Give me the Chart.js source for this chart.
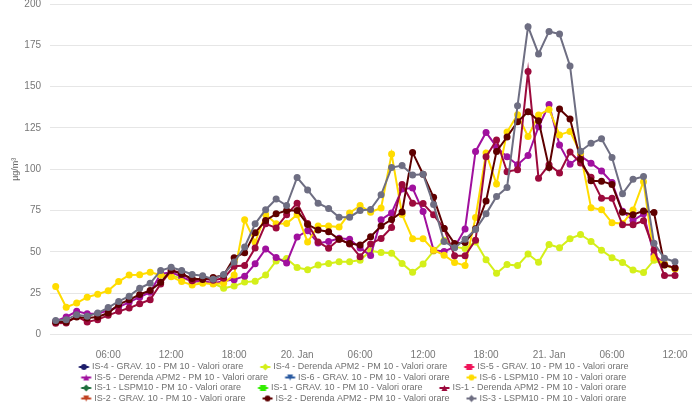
<!DOCTYPE html>
<html><head><meta charset="utf-8">
<script src="https://cdn.jsdelivr.net/npm/chart.js@4.4.1/dist/chart.umd.min.js"></script>
<style>html,body{margin:0;padding:0;background:#fff;}#wrap{width:700px;height:420px;}</style>
</head><body><div id="wrap"><canvas id="c" width="700" height="420"></canvas></div>
<script>
// Hours since 00:00, 19 Jan (hourly values)
const hours = [1,2,3,4,5,6,7,8,9,10,11,12,13,14,15,16,17,18,19,20,21,22,23,24,25,26,27,28,29,30,
  31,32,33,34,35,36,37,38,39,40,41,42,43,44,45,46,47,48,49,50,51,52,53,54,55,56,57,58,59,60];
const tickHours = [6,12,18,24,30,36,42,48,54,60];
const tickLabels = ['06:00','12:00','18:00','20. Jan','06:00','12:00','18:00','21. Jan','06:00','12:00'];

const seriesNames = [
  'IS-4 - GRAV. 10 - PM 10 - Valori orare',
  'IS-4 - Derenda APM2 - PM 10 - Valori orare',
  'IS-5 - GRAV. 10 - PM 10 - Valori orare',
  'IS-5 - Derenda APM2 - PM 10 - Valori orare',
  'IS-6 - GRAV. 10 - PM 10 - Valori orare',
  'IS-6 - LSPM10 - PM 10 - Valori orare',
  'IS-1 - LSPM10 - PM 10 - Valori orare',
  'IS-1 - GRAV. 10 - PM 10 - Valori orare',
  'IS-1 - Derenda APM2 - PM 10 - Valori orare',
  'IS-2 - GRAV. 10 - PM 10 - Valori orare',
  'IS-2 - Derenda APM2 - PM 10 - Valori orare',
  'IS-3 - LSPM10 - PM 10 - Valori orare'
];
const seriesColors = ['#1c1c6a','#d4ef1a','#f0145a','#a0109e','#2a5aa0','#ffdc00',
  '#1e6e3c','#33ee00','#9c0a3c','#c04020','#5e0000','#6e6e82'];
const legendSymbols = ['circle','diamond','square','triangle','triangleDown','circle',
  'diamond','square','triangle','triangleDown','circle','diamond'];

const is4Grav = [];
const is4Derenda = [null,null,null,null,null,null,null,null,null,null,
  36,35.5,34,32.5,31.5,31,28,29.3,31.7,32.2,
  36,44.5,46,40.5,39.2,42,43,44,44,45,
  50.6,49.6,49.2,43,37.6,42.6,50.5,57,53,52,
  56,45.3,37,42.3,41.7,48.7,43.7,54.5,52.5,58,
  60.5,56.3,51,46.5,43.6,39,37.5,45,42,40];
const is5Grav = [];
const is5Derenda = [8,10.6,14,12.6,12.6,14.6,16.6,19.6,22.6,25.6,
  36.6,37.6,35,32,32.5,31,32.3,33.2,35.3,42.8,
  51.8,46.6,43.3,59,62.8,55.3,56.3,58.2,57.6,52.4,
  47.8,69.5,73.6,88,88.6,74.4,51,50.3,53,63.9,
  110.8,122.3,113.5,107.5,102.7,108.3,125.7,139.2,114.7,103,
  108,103.7,98.9,92,74.6,69,73,48.3,42.6,40.2];
const is6Grav = [];
const is6Lspm = [29,16.5,19,22.6,24.4,26.5,32,36,36.2,37.7,
  36,35,32,30,31,30.6,31,36,69.4,55.8,
  72.6,67,67.2,72.5,56,65.7,65.7,65,73.5,78,
  74,76.6,109.2,72.6,58,58,51,48,43.6,41.7,
  70.8,109.8,91,122.5,133,119.8,132.8,136.2,120.8,122.9,
  109.6,76.7,75.5,67.6,67.1,75.3,92.5,46.6,42.6,39.6];
const is1Lspm = [];
const is1Grav = [];
const is1Derenda = [6.8,7,11,7.6,9,11.6,14,16,18.6,21,
  30.6,38.6,37.5,32.5,33.9,32.9,34,41.3,41.8,52.3,
  67,64.5,72.5,79.5,67.1,56,52.2,57.6,54.8,47.1,
  54.8,58.1,64.8,90.8,79.4,79.2,72.4,64.1,47.6,47.6,
  57.1,107.5,117.7,98.5,99.7,159.1,94.5,102.7,97.8,110.4,
  103.8,95.2,82.4,82.4,66.4,66.4,68.8,51.2,35.7,35.7];
const is2Grav = [];
const is2Derenda = [7.6,7.6,10.6,10,10.6,13,18.2,21,24.2,26.6,
  31.6,39,36.5,33.9,33.3,34.5,35.9,46.5,49.5,61.5,
  69,73,75,75,66.6,63.2,62.2,57.6,55,54.2,
  59.2,65.6,69.6,74.2,110.2,97,83,64.2,55,55.6,
  64,80.8,110.8,119.5,128.8,134.8,129.4,101,136.4,130.4,
  106,93,92.8,90.8,74,72.5,74.8,73.8,42,40.3];
const is3Lspm = [8.5,9,12,11,13,16.3,20,23.2,28,31,
  38.7,40.7,38.7,36.3,35.5,33.5,36.3,43.8,53,67,
  75.5,82,78,95,87.5,79.5,76.3,71,71,75,
  75.7,84.5,101,102.2,96.5,97,78.6,56.3,52.5,57.6,
  63.5,73,83.5,89,138.5,186.3,169.8,183.4,181.8,162.5,
  110.9,115.7,118.4,107.1,85.1,93.9,95.6,55.2,46.1,44];

const seriesValues = [is4Grav,is4Derenda,is5Grav,is5Derenda,is6Grav,is6Lspm,
  is1Lspm,is1Grav,is1Derenda,is2Grav,is2Derenda,is3Lspm];

function makeIcon(color, sym){
  const c = document.createElement('canvas');
  c.width = 32; c.height = 10;
  const g = c.getContext('2d');
  g.strokeStyle = color; g.fillStyle = color; g.lineWidth = 2;
  g.beginPath(); g.moveTo(19.5,5); g.lineTo(29.5,5); g.stroke();
  const cx = 24.5, cy = 5, r = 3;
  g.beginPath();
  if (sym === 'circle') { g.arc(cx,cy,r,0,Math.PI*2); }
  else if (sym === 'diamond') { g.moveTo(cx,cy-r-0.5); g.lineTo(cx+r+0.5,cy); g.lineTo(cx,cy+r+0.5); g.lineTo(cx-r-0.5,cy); g.closePath(); }
  else if (sym === 'square') { g.rect(cx-r,cy-r,2*r,2*r); }
  else if (sym === 'triangle') { g.moveTo(cx,cy-r); g.lineTo(cx+r,cy+r); g.lineTo(cx-r,cy+r); g.closePath(); }
  else { g.moveTo(cx-r,cy-r); g.lineTo(cx+r,cy-r); g.lineTo(cx,cy+r); g.closePath(); }
  g.fill();
  return c;
}
const icons = seriesColors.map((col,i) => makeIcon(col, legendSymbols[i]));

const FONT = "'Liberation Sans', Arial, Helvetica, sans-serif";
const datasets = seriesNames.map((name,i) => ({
  label: name,
  data: seriesValues[i].map((v,k) => ({x: hours[k], y: v})),
  borderColor: seriesColors[i],
  backgroundColor: seriesColors[i],
  pointBackgroundColor: seriesColors[i],
  pointBorderWidth: 0,
  pointRadius: 3.5,
  borderWidth: 2,
  tension: 0,
  fill: false,
  order: 20 - i
}));

new Chart(document.getElementById('c'), {
  type: 'line',
  data: { datasets },
  options: {
    responsive: false,
    animation: false,
    layout: { padding: { left: 0, right: 8, top: 1, bottom: 7 } },
    plugins: {
      tooltip: { enabled: false },
      legend: {
        position: 'bottom',
        align: 'center',
        labels: {
          usePointStyle: true,
          pointStyleWidth: 24,
          padding: 1.5,
          color: '#707070',
          font: { family: FONT, size: 9 },
          sort: (a,b) => a.datasetIndex - b.datasetIndex,
          generateLabels: (chart) => {
            const items = Chart.defaults.plugins.legend.labels.generateLabels(chart);
            items.forEach(it => { it.pointStyle = icons[it.datasetIndex]; });
            return items;
          }
        }
      }
    },
    scales: {
      x: {
        type: 'linear',
        min: 0.457,
        max: 61.62,
        grid: { display: false },
        border: { display: false },
        ticks: {
          padding: 7, color: '#777', font: { family: FONT, size: 10 },
          autoSkip: false, maxRotation: 0,
          callback: (v, idx) => tickLabels[idx]
        },
        afterBuildTicks: (s) => { s.ticks = tickHours.map(v => ({ value: v })); },
        afterFit: (s) => { s.height = 26.5; }
      },
      y: {
        min: 0, max: 200,
        ticks: { stepSize: 25, padding: 9, color: '#777', font: { family: FONT, size: 10 } },
        grid: { color: '#e6e6e6', drawTicks: false, lineWidth: 1 },
        border: { display: false },
        title: { display: true, text: 'µg/m³', color: '#666', font: { family: FONT, size: 9 }, padding: { top: 10, bottom: 0 } },
        afterFit: (s) => { s.width = 50; s.paddingTop = 0; s.paddingBottom = 0; }
      }
    }
  }
});
</script>
</body></html>
